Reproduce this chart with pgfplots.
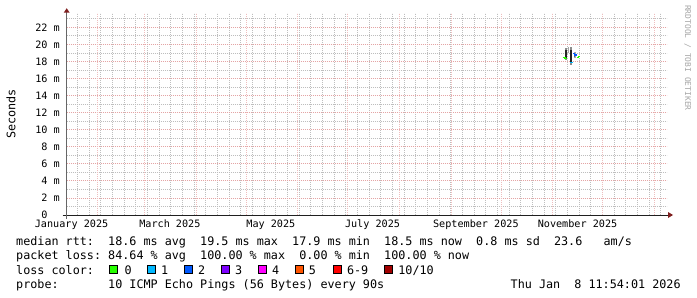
\documentclass[border=0pt]{standalone}
\usepackage{fontspec}
\setmainfont{DejaVu Sans Mono}
\usepackage{pgfplots}
\pgfplotsset{compat=1.18}
\definecolor{gridred}{RGB}{228,165,165}
\definecolor{gridredv}{RGB}{238,190,190}
\definecolor{gridgray}{RGB}{190,190,190}
\definecolor{arrowc}{RGB}{127,31,31}
\definecolor{axisc}{RGB}{31,31,31}
\definecolor{l0}{HTML}{26FF00}
\definecolor{l1}{HTML}{00B8FF}
\definecolor{l2}{HTML}{0059FF}
\definecolor{l3}{HTML}{7E00FF}
\definecolor{l4}{HTML}{FF00FF}
\definecolor{l5}{HTML}{FF5500}
\definecolor{l6}{HTML}{FF0000}
\definecolor{l10}{HTML}{A10000}
\newcommand\lfont{\fontsize{11.8}{14}\selectfont}
\newcommand\afont{\fontsize{10.2}{12}\selectfont}
\begin{document}
\frenchspacing
\begin{tikzpicture}[x=1bp,y=1bp]
\path[use as bounding box] (0,0) rectangle (697,297);
\begin{axis}[
  at={(66.7bp,82bp)}, anchor=south west, scale only axis,
  width=600bp, height=202bp,
  xmin=12.5, xmax=372.5, ymin=0, ymax=23.68,
  axis line style={draw=none},
  tick style={draw=none},
  xtick={15.4,74.4,135,196,258,319},
  xticklabels={January~2025,March~2025,May~2025,July~2025,September~2025,November~2025},
  minor xtick={19,26,...,369},
  extra x ticks={31,59,90,120,151,181,212,243,273,304,334,365},
  extra x tick labels={},
  extra x tick style={xmajorgrids=true, tick style={draw=none},
     major grid style={draw=gridredv, dash pattern=on 1bp off 1bp, line width=0.7bp}},
  ytick={0,2,...,22},
  yticklabels={0\phantom{~m},2~m,4~m,6~m,8~m,10~m,12~m,14~m,16~m,18~m,20~m,22~m},
  minor ytick={1,3,...,23},
  xmajorgrids=false, xminorgrids=true, ymajorgrids=true, yminorgrids=true,
  major grid style={draw=gridred, dash pattern=on 1bp off 1bp, line width=0.8bp},
  minor grid style={draw=gridgray, dash pattern=on 1bp off 1bp, line width=0.8bp},
  yticklabel style={anchor=east, inner sep=0pt, xshift=-6.7bp, font=\afont},
  xticklabel style={anchor=base, inner sep=0pt, yshift=-12.5bp, font=\afont},
]
% smoke
\addplot[draw=black!45, line width=1.8bp] coordinates {(312.2,18.2) (312.2,19.6)};
\addplot[draw=black!85, line width=1.8bp] coordinates {(312.2,18.4) (312.2,19.3)};
\addplot[draw=black!35, line width=1.2bp] coordinates {(313.4,18.95) (313.4,19.7)};
\addplot[draw=black!45, line width=1.8bp] coordinates {(314.9,17.6) (314.9,19.7)};
\addplot[draw=black!85, line width=1.8bp] coordinates {(314.9,17.9) (314.9,19.4)};
\addplot[draw=black!35, line width=2.5bp] coordinates {(317.4,18.4) (317.4,19.1)};
\addplot[draw=black!60, line width=1.2bp] coordinates {(317.4,18.55) (317.4,18.95)};
% median coloured by loss
\addplot[draw=l0, line width=1.3bp] coordinates {(310.0,18.45) (311.4,18.45) (311.4,18.35) (312.6,18.35)};
\addplot[draw=l1, line width=1.3bp] coordinates {(314.6,17.9) (316.1,17.9)};
\addplot[draw=l2, line width=1.3bp] coordinates {(316.5,18.9) (317.3,18.9) (317.3,18.75) (318.4,18.75)};
\addplot[draw=l0, line width=1.3bp] coordinates {(318.4,18.5) (319.4,18.5) (319.4,18.55) (320.5,18.55)};
\end{axis}
% axes and arrows
\draw[axisc, line width=1bp] (62.7,82) -- (668.5,82);
\fill[arrowc] (668,85) -- (673,82) -- (668,79) -- cycle;
\draw[black!60, line width=1.2bp] (66.7,78) -- (66.7,284.5);
\fill[arrowc] (63.7,284.3) -- (66.7,288.8) -- (69.7,284.3) -- cycle;
% axis title and watermark
\node[rotate=90, anchor=base, inner sep=0pt, font=\lfont] at (15.3,183) {Seconds};
\node[rotate=-90, anchor=base west, inner sep=0pt, font=\fontsize{8}{9}\selectfont, text=black!35] at (685,292) {RRDTOOL~/~TOBI~OETIKER};
% legend
\node[anchor=base west, inner sep=0pt, font=\lfont] at (16,51.7) {median~rtt:~~18.6~ms~avg~~19.5~ms~max~~17.9~ms~min~~18.5~ms~now~~0.8~ms~sd~~23.6~~~am/s};
\node[anchor=base west, inner sep=0pt, font=\lfont] at (16,37.4) {packet~loss:~84.64~\%~avg~~100.00~\%~max~~0.00~\%~min~~100.00~\%~now};
\node[anchor=base west, inner sep=0pt, font=\lfont] at (16,23.0) {loss~color:};
\foreach \bx/\lx/\c/\t in {109.6/124.4/l0/0, 147.7/161/l1/1, 184.3/197.8/l2/2, 221.5/235/l3/3, 258.6/272/l4/4, 295.3/308.7/l5/5, 333.3/346.8/l6/6-9, 384.8/398.2/l10/10\slash 10}{
  \filldraw[fill=\c, draw=black, line width=0.8bp] (\bx,23.3) rectangle ++(8,8);
  \node[anchor=base west, inner sep=0pt, font=\lfont] at (\lx,23.0) {\t};
}
\node[anchor=base west, inner sep=0pt, font=\lfont] at (16,8.7) {probe:~~~~~~~10~ICMP~Echo~Pings~(56~Bytes)~every~90s};
\node[anchor=base east, inner sep=0pt, font=\lfont] at (680.8,8.7) {Thu~Jan~~8~11:54:01~2026};
\end{tikzpicture}
\end{document}
